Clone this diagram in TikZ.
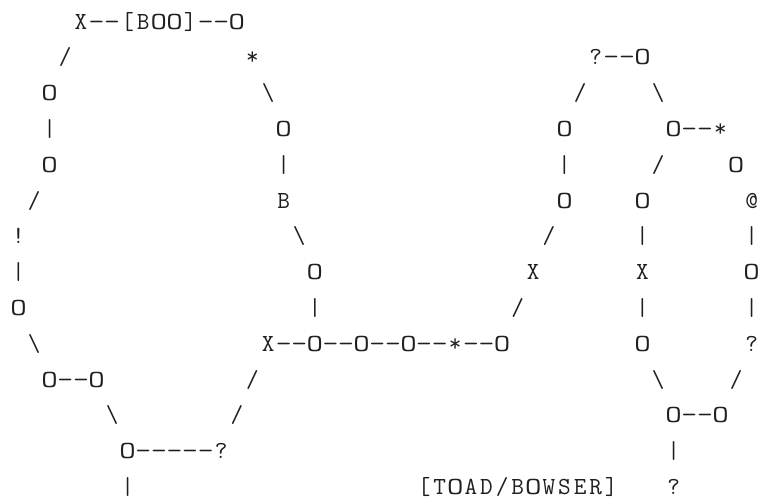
\documentclass[tikz,border=0pt]{standalone}
\usepackage{graphicx}
\newcount\PLrow
\newcount\PLcol
\def\PLgobble#1{}
\def\PLfirst#1{#1}
\tikzset{
  ch/.style={anchor=base, inner sep=0pt, outer sep=0pt,
    font=\ttfamily\fontsize{18.4}{20}\selectfont, text=black!88}
}
\def\PLglyph#1{\ifx#1O\scalebox{1.3}[1]{O}\else\ifx#1-\scalebox{1.25}[1]{-}\else#1\fi\fi}
\def\PLchar#1{%
  \node[ch] (r\the\PLrow c\the\PLcol) at ({18.5+15.6*\the\PLcol},{29+35.8*\the\PLrow}) {\PLglyph{#1}};%
  \global\advance\PLcol by 1\relax}
\def\PLloop#1{\ifx#1\relax\expandafter\PLgobble\else\expandafter\PLfirst\fi{\PLchar{#1}\PLloop}}
\def\Seg#1#2#3{\global\PLrow=#1\relax\global\PLcol=#2\relax\PLloop#3\relax}
\def\bs{\textbackslash}
\begin{document}
\begin{tikzpicture}[x=0.75pt,y=-0.75pt]
\useasboundingbox (0,0) rectangle (760,500);
% row 0
\Seg{0}{4}{X--[BOO]--O}
% row 1
\Seg{1}{3}{/}\Seg{1}{15}{*}\Seg{1}{37}{?--O}
% row 2
\Seg{2}{2}{O}\Seg{2}{16}{\bs}\Seg{2}{36}{/}\Seg{2}{41}{\bs}
% row 3
\Seg{3}{2}{|}\Seg{3}{17}{O}\Seg{3}{35}{O}\Seg{3}{42}{O--*}
% row 4
\Seg{4}{2}{O}\Seg{4}{17}{|}\Seg{4}{35}{|}\Seg{4}{41}{/}\Seg{4}{46}{O}
% row 5
\Seg{5}{1}{/}\Seg{5}{17}{B}\Seg{5}{35}{O}\Seg{5}{40}{O}\Seg{5}{47}{@}
% row 6
\Seg{6}{0}{!}\Seg{6}{18}{\bs}\Seg{6}{34}{/}\Seg{6}{40}{|}\Seg{6}{47}{|}
% row 7
\Seg{7}{0}{|}\Seg{7}{19}{O}\Seg{7}{33}{X}\Seg{7}{40}{X}\Seg{7}{47}{O}
% row 8
\Seg{8}{0}{O}\Seg{8}{19}{|}\Seg{8}{32}{/}\Seg{8}{40}{|}\Seg{8}{47}{|}
% row 9
\Seg{9}{1}{\bs}\Seg{9}{16}{X--O--O--O--*--O}\Seg{9}{40}{O}\Seg{9}{47}{?}
% row 10
\Seg{10}{2}{O--O}\Seg{10}{15}{/}\Seg{10}{41}{\bs}\Seg{10}{46}{/}
% row 11
\Seg{11}{6}{\bs}\Seg{11}{14}{/}\Seg{11}{42}{O--O}
% row 12
\Seg{12}{7}{O-----?}\Seg{12}{42}{|}
% row 13
\Seg{13}{7}{|}\Seg{13}{26}{[TOAD/BOWSER]}\Seg{13}{42}{?}
\end{tikzpicture}
\end{document}
